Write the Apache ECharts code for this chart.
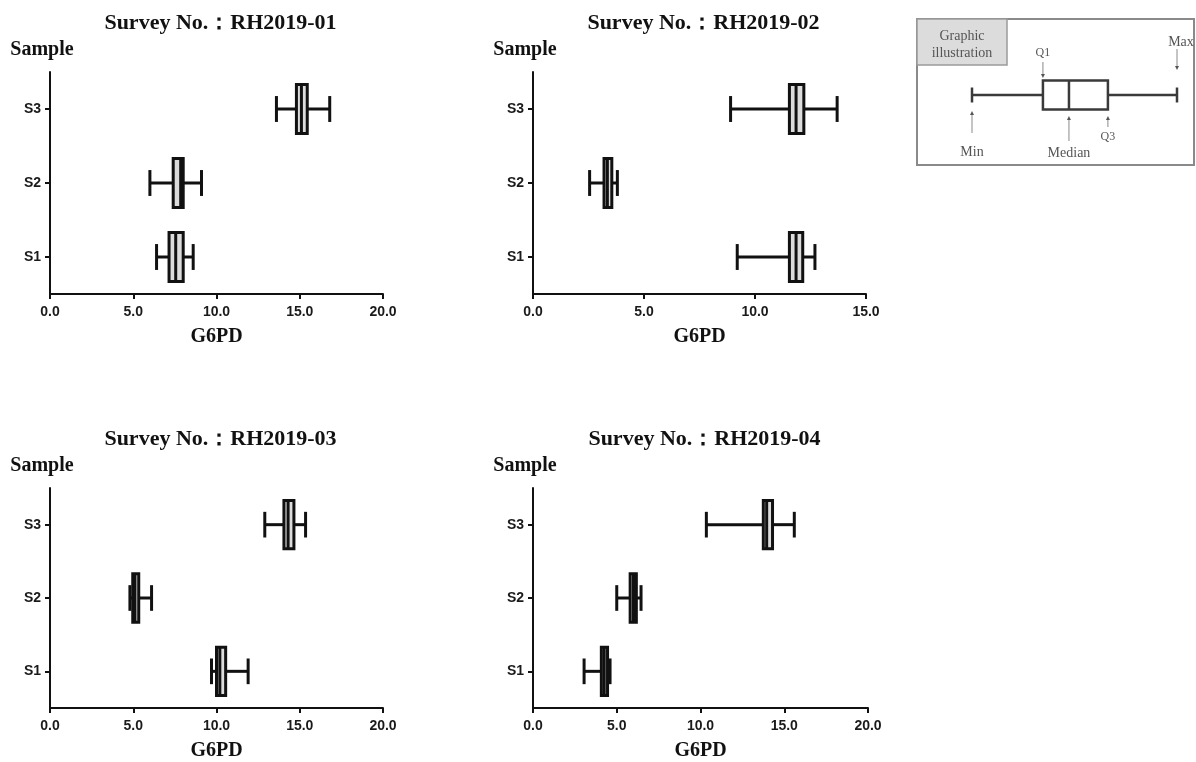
<!DOCTYPE html>
<html>
<head>
<meta charset="utf-8">
<script src="https://cdn.jsdelivr.net/npm/echarts@6/dist/echarts.min.js"></script>
<style>html,body{margin:0;padding:0;background:#fff}#c{width:1196px;height:762px}</style>
</head>
<body>
<div id="c"></div>
<script>
// ---- data ----
const samples = ['S1', 'S2', 'S3'];
// each row: [min, Q1, median, Q3, max] for S1, S2, S3
const rh01 = [[6.4, 7.15, 7.55, 8.0, 8.6], [6.0, 7.4, 7.85, 8.0, 9.1], [13.6, 14.8, 15.1, 15.45, 16.8]];
const rh02 = [[9.2, 11.55, 11.85, 12.15, 12.7], [2.55, 3.2, 3.35, 3.55, 3.8], [8.9, 11.55, 11.85, 12.2, 13.7]];
const rh03 = [[9.7, 10.0, 10.2, 10.55, 11.9], [4.8, 4.97, 5.1, 5.33, 6.1], [12.9, 14.05, 14.3, 14.65, 15.35]];
const rh04 = [[3.05, 4.08, 4.25, 4.45, 4.6], [5.0, 5.8, 6.0, 6.17, 6.45], [10.35, 13.75, 13.95, 14.3, 15.6]];
const surveys = ['RH2019-01', 'RH2019-02', 'RH2019-03', 'RH2019-04'];
const xMaxes = [20, 15, 20, 20];
const xInterval = 5;
const axisTitle = 'G6PD';
const catTitle = 'Sample';
// illustrative box for the key: [min, Q1, median, Q3, max]
const keyBox = [0, 3.46, 4.73, 6.63, 10];

const panels = [rh01, rh02, rh03, rh04];

const SERIF = '"Liberation Serif", "Times New Roman", serif';
const SANS = '"Liberation Sans", Arial, sans-serif';

const gridRects = [
  {left: 50, top: 72, width: 333, height: 222},
  {left: 533, top: 72, width: 333, height: 222},
  {left: 50, top: 488, width: 333, height: 222},
  {left: 533, top: 488, width: 335, height: 222}
];

function boxRenderer(boxRatio, capRatio, lw, color, fill) {
  return function (params, api) {
    const c = api.value(0);
    const p = [1, 2, 3, 4, 5].map(i => api.coord([api.value(i), c]));
    const band = api.size([0, 1])[1];
    const bh = band * boxRatio, ch = band * capRatio;
    const y = p[0][1];
    const ls = {stroke: color, lineWidth: lw, fill: null};
    return {type: 'group', children: [
      {type: 'line', shape: {x1: p[0][0], y1: y, x2: p[1][0], y2: y}, style: ls},
      {type: 'line', shape: {x1: p[3][0], y1: y, x2: p[4][0], y2: y}, style: ls},
      {type: 'line', shape: {x1: p[0][0], y1: y - ch / 2, x2: p[0][0], y2: y + ch / 2}, style: ls},
      {type: 'line', shape: {x1: p[4][0], y1: y - ch / 2, x2: p[4][0], y2: y + ch / 2}, style: ls},
      {type: 'rect', shape: {x: p[1][0], y: y - bh / 2, width: p[3][0] - p[1][0], height: bh}, style: {fill: fill, stroke: color, lineWidth: lw}},
      {type: 'line', shape: {x1: p[2][0], y1: y - bh / 2, x2: p[2][0], y2: y + bh / 2}, style: ls}
    ]};
  };
}

const grids = gridRects.map(g => Object.assign({containLabel: false}, g));
grids.push({left: 972, top: 73, width: 205, height: 44});

const xAxes = panels.map((d, i) => ({
  type: 'value', gridIndex: i, min: 0, max: xMaxes[i], interval: xInterval,
  name: axisTitle, nameLocation: 'middle', nameGap: 33,
  nameTextStyle: {fontFamily: SERIF, fontWeight: 'bold', fontSize: 20, color: '#111'},
  axisLine: {show: true, onZero: false, lineStyle: {color: '#111', width: 2}},
  axisTick: {show: true, length: 5, lineStyle: {color: '#111', width: 2}},
  axisLabel: {margin: 11, fontFamily: SANS, fontWeight: 'bold', fontSize: 14, color: '#1a1a1a', formatter: v => v.toFixed(1)},
  splitLine: {show: false}
}));
xAxes.push({type: 'value', gridIndex: 4, min: keyBox[0], max: keyBox[4], show: false});

const yAxes = panels.map((d, i) => ({
  type: 'category', gridIndex: i, data: samples,
  name: catTitle, nameLocation: 'end', nameGap: 12,
  nameTextStyle: {fontFamily: SERIF, fontWeight: 'bold', fontSize: 20, color: '#111', align: 'center', padding: [0, 16, 0, 0]},
  axisLine: {show: true, lineStyle: {color: '#111', width: 2}},
  axisTick: {show: true, alignWithLabel: true, length: 5, lineStyle: {color: '#111', width: 2}},
  axisLabel: {margin: 9, fontFamily: SANS, fontWeight: 'bold', fontSize: 14, color: '#1a1a1a'},
  splitLine: {show: false}
}));
yAxes.push({type: 'category', gridIndex: 4, data: ['key'], show: false});

const series = panels.map((d, i) => ({
  type: 'custom', xAxisIndex: i, yAxisIndex: i,
  renderItem: boxRenderer(0.66, 0.35, 3, '#111', '#dcdcdc'),
  encode: {x: [1, 2, 3, 4, 5], y: 0},
  data: d.map((r, k) => [k].concat(r))
}));
series.push({
  type: 'custom', xAxisIndex: 4, yAxisIndex: 4,
  renderItem: boxRenderer(0.66, 0.34, 2.5, '#3a3a3a', '#fff'),
  encode: {x: [1, 2, 3, 4, 5], y: 0},
  data: [[0].concat(keyBox)]
});

const chart = echarts.init(document.getElementById('c'), null, {renderer: 'canvas'});
chart.setOption({
  backgroundColor: '#fff',
  animation: false,
  grid: grids, xAxis: xAxes, yAxis: yAxes, series: series
});

// ---- graphic texts (titles and key annotations) ----
const els = [];
gridRects.forEach((g, i) => {
  els.push({type: 'text', x: g.left + g.width / 2 + 4, y: g.top - 49,
    style: {text: 'Survey No.\uFF1A' + surveys[i], font: 'bold 22px ' + SERIF, fill: '#111', align: 'center', verticalAlign: 'middle'}});
});
// key frame
els.push({type: 'rect', shape: {x: 917, y: 19, width: 277, height: 146}, style: {fill: 'none', stroke: '#8a8a8a', lineWidth: 2}});
els.push({type: 'rect', shape: {x: 917, y: 19, width: 90, height: 46}, style: {fill: '#dcdcdc', stroke: '#9a9a9a', lineWidth: 1.5}});
els.push({type: 'text', x: 962, y: 36, style: {text: 'Graphic', font: '14px ' + SERIF, fill: '#555', align: 'center', verticalAlign: 'middle'}});
els.push({type: 'text', x: 962, y: 53, style: {text: 'illustration', font: '14px ' + SERIF, fill: '#555', align: 'center', verticalAlign: 'middle'}});

const kp = keyBox.map(v => chart.convertToPixel({xAxisIndex: 4, yAxisIndex: 4}, [v, 0]));
const yc = kp[0][1];
function arrow(x, yTail, yHead) {
  const dir = yHead > yTail ? 1 : -1;
  els.push({type: 'line', shape: {x1: x, y1: yTail, x2: x, y2: yHead - dir * 3}, style: {stroke: '#8a8a8a', lineWidth: 1}});
  els.push({type: 'polygon', shape: {points: [[x - 2, yHead - dir * 4], [x + 2, yHead - dir * 4], [x, yHead]]}, style: {fill: '#555'}});
}
function label(t, x, y, size) {
  els.push({type: 'text', x: x, y: y, style: {text: t, font: size + 'px ' + SERIF, fill: '#555', align: 'center', verticalAlign: 'middle'}});
}
// Q1
arrow(kp[1][0], yc - 33, yc - 17); label('Q1', kp[1][0], yc - 42, 12);
// Max
arrow(kp[4][0], yc - 46, yc - 25); label('Max', kp[4][0] + 4, yc - 53, 14);
// Min
arrow(kp[0][0], yc + 38, yc + 16); label('Min', kp[0][0], yc + 57, 14);
// Median
arrow(kp[2][0], yc + 46, yc + 21); label('Median', kp[2][0], yc + 58, 14);
// Q3
arrow(kp[3][0], yc + 32, yc + 21); label('Q3', kp[3][0], yc + 42, 12);

chart.setOption({graphic: {elements: els}});
</script>
</body>
</html>
